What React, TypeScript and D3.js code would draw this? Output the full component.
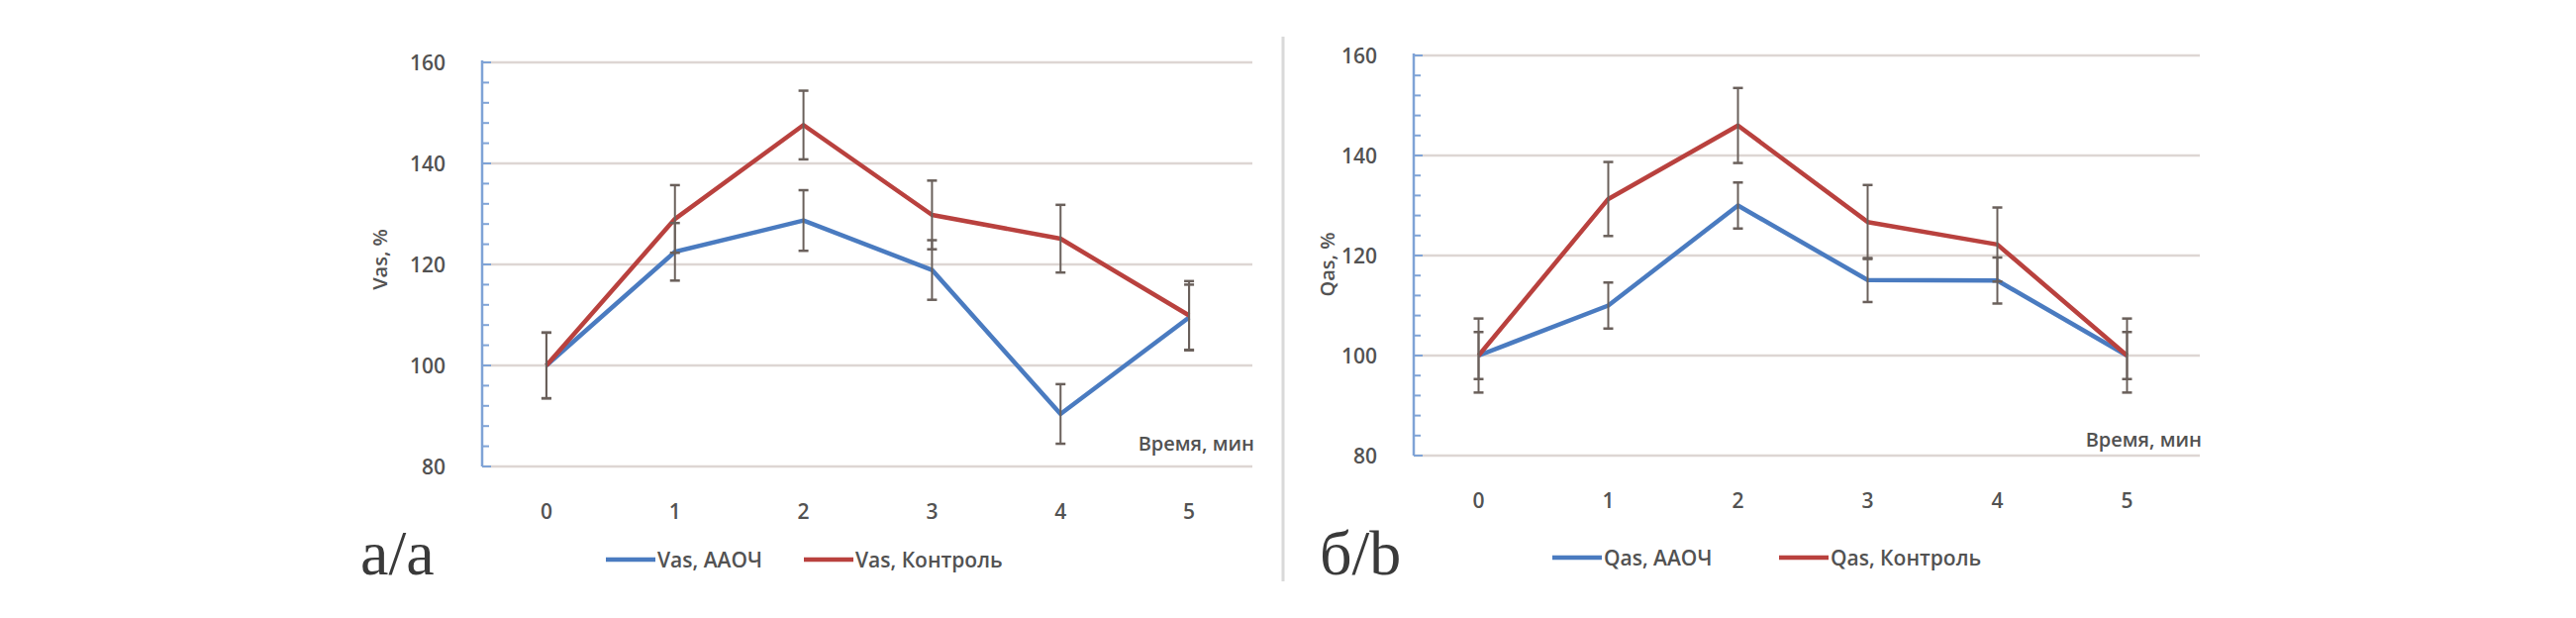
import React from 'react';
import * as d3 from 'd3';

// --- data ---
const times = ['0', '1', '2', '3', '4', '5'];
const yTicks = [80, 100, 120, 140, 160];

const vasAaoch = [100, 122.5, 128.7, 118.9, 90.4, 109.5];
const vasAaochErr = [6.5, 5.7, 6.0, 5.9, 5.9, 6.5];
const vasControl = [100, 129, 147.6, 129.8, 125.1, 109.9];
const vasControlErr = [6.5, 6.7, 6.8, 6.8, 6.7, 6.8];

const qasAaoch = [100, 110, 130, 115.1, 115, 100];
const qasAaochErr = [4.7, 4.6, 4.6, 4.4, 4.6, 4.7];
const qasControl = [100, 131.3, 146, 126.7, 122.2, 100];
const qasControlErr = [7.4, 7.4, 7.5, 7.4, 7.4, 7.4];

const BLUE = '#4a7bc0';
const RED = '#b9413e';
const ERR = '#6a605b';
const TEXT = '#525252';
const GRID = '#ddd6d3';
const AXIS = '#7fa3d6';
const FONT = '"Open Sans", Lato, sans-serif';

interface PanelProps {
  left: number;
  right: number;
  top: number;
  bottom: number;
  gridEnd: number;
  yLabel: string;
  yLabelX: number;
  yLabelY: number;
  xTitleDy: number;
  series: { name: string; values: number[]; err: number[]; color: string }[];
  legendX: number[];
  legendY: number;
  panelLabel: string;
  panelLabelX: number;
}

function Panel(p: PanelProps) {
  const x = d3.scaleBand<string>().domain(times).range([p.left, p.right]);
  const y = d3.scaleLinear().domain([80, 160]).range([p.bottom, p.top]);
  const cx = (t: string) => (x(t) ?? 0) + x.bandwidth() / 2;
  const axisX = p.left;

  const line = d3.line<number>()
    .x((_, i) => cx(times[i]))
    .y(d => y(d));

  const minor = d3.range(80, 161, 4);

  return (
    <g fontFamily={FONT} fontWeight={600} fill={TEXT}>
      {/* gridlines */}
      {yTicks.map(t => (
        <line key={t} x1={axisX} x2={p.gridEnd} y1={y(t)} y2={y(t)} stroke={GRID} strokeWidth={2.5} />
      ))}
      {/* y axis */}
      <line x1={axisX} x2={axisX} y1={y(160) - 2} y2={y(80)} stroke={AXIS} strokeWidth={2.5} />
      {minor.map(t => (
        <line key={t} x1={axisX} x2={axisX + (t % 20 === 0 ? 9 : 7)} y1={y(t)} y2={y(t)} stroke={AXIS} strokeWidth={2} />
      ))}
      {yTicks.map(t => (
        <text key={t} x={axisX - 37} y={y(t)} textAnchor="end" dominantBaseline="central" fontSize={21}>{t}</text>
      ))}
      <text transform={`translate(${p.yLabelX},${p.yLabelY}) rotate(-90)`} textAnchor="middle"
        dominantBaseline="central" fontSize={20}>{p.yLabel}</text>

      {/* x labels */}
      {times.map(t => (
        <text key={t} x={cx(t)} y={p.bottom + 45} textAnchor="middle" dominantBaseline="central" fontSize={21}>{t}</text>
      ))}
      <text x={p.gridEnd + 2} y={p.bottom + p.xTitleDy} textAnchor="end" fontSize={20}>
        Время, мин
      </text>

      {/* lines */}
      {p.series.map(s => (
        <path key={s.name} d={line(s.values) || ''} fill="none" stroke={s.color} strokeWidth={4.5}
          strokeLinejoin="round" />
      ))}
      {/* error bars */}
      {p.series.map(s => s.values.map((v, i) => {
        const xx = cx(times[i]);
        const y1 = y(v + s.err[i]);
        const y2 = y(v - s.err[i]);
        return (
          <g key={s.name + i} stroke={ERR}>
            <line x1={xx} x2={xx} y1={y1} y2={y2} strokeWidth={2} />
            <line x1={xx - 5} x2={xx + 5} y1={y1} y2={y1} strokeWidth={2.5} />
            <line x1={xx - 5} x2={xx + 5} y1={y2} y2={y2} strokeWidth={2.5} />
          </g>
        );
      }))}

      {/* legend */}
      {p.series.map((s, i) => (
        <g key={s.name} transform={`translate(${p.legendX[i]},${p.legendY})`}>
          <line x1={0} x2={50} y1={0} y2={0} stroke={s.color} strokeWidth={4.5} />
          <text x={52} y={0} dominantBaseline="central" fontSize={21}>{s.name}</text>
        </g>
      ))}

      <text x={p.panelLabelX} y={580} fontFamily='"Liberation Serif", "Times New Roman", serif' fontWeight={400}
        fontSize={64} fill="#3a3a3a">{p.panelLabel}</text>
    </g>
  );
}

export default function App() {
  return (
    <svg width={2602} height={624} style={{ position: 'absolute', left: 0, top: 0, background: '#fff' }}>
      <rect width={2602} height={624} fill="#fff" />
      <Panel
        left={487} right={1266} top={63} bottom={471} gridEnd={1265}
        yLabel="Vas, %" yLabelX={383} yLabelY={262} xTitleDy={-16}
        series={[
          { name: 'Vas, ААОЧ', values: vasAaoch, err: vasAaochErr, color: BLUE },
          { name: 'Vas, Контроль', values: vasControl, err: vasControlErr, color: RED },
        ]}
        legendX={[612, 812]} legendY={565}
        panelLabel="а/a" panelLabelX={364}
      />
      <line x1={1296} x2={1296} y1={37} y2={587} stroke="#d9d9d9" strokeWidth={3} />
      <Panel
        left={1428} right={2214} top={56} bottom={460} gridEnd={2222}
        yLabel="Qas, %" yLabelX={1340} yLabelY={267} xTitleDy={-9}
        series={[
          { name: 'Qas, ААОЧ', values: qasAaoch, err: qasAaochErr, color: BLUE },
          { name: 'Qas, Контроль', values: qasControl, err: qasControlErr, color: RED },
        ]}
        legendX={[1568, 1797]} legendY={563}
        panelLabel="б/b" panelLabelX={1333}
      />
    </svg>
  );
}
